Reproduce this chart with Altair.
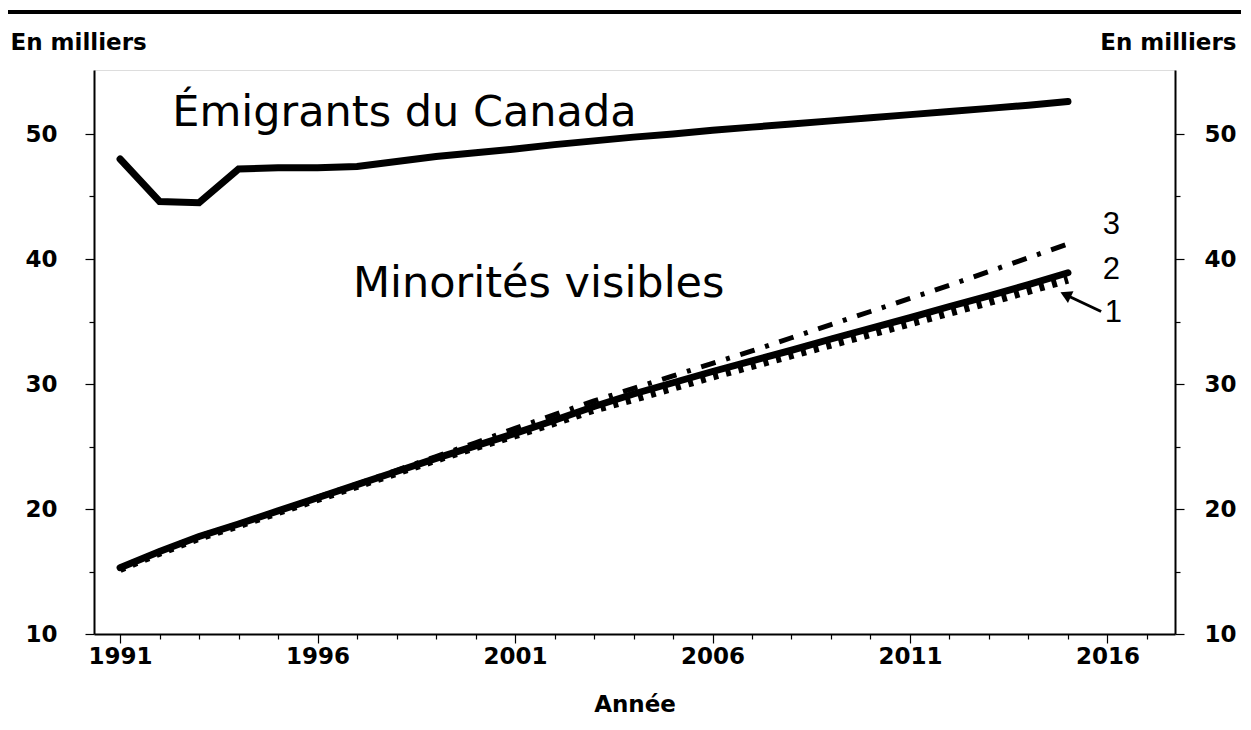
import altair as alt
import pandas as pd

years = list(range(1991, 2016))
emigrants = [48.0, 44.6, 44.5, 47.2, 47.3, 47.3, 47.4, 47.8, 48.2, 48.5, 48.8, 49.15,
             49.45, 49.75, 50.0, 50.3, 50.55, 50.8, 51.05, 51.3, 51.55, 51.8, 52.05, 52.3, 52.6]
minorities_1 = [15.2, 16.5, 17.7, 18.7, 19.75, 20.8, 21.85, 22.9, 23.95, 24.95, 25.9, 26.9,
                27.95, 28.8, 29.7, 30.6, 31.45, 32.3, 33.15, 34.0, 34.85, 35.7, 36.55, 37.45, 38.35]
minorities_2 = [15.3, 16.6, 17.8, 18.8, 19.85, 20.9, 21.95, 23.0, 24.05, 25.05, 26.05, 27.1,
                28.2, 29.2, 30.1, 31.0, 31.85, 32.7, 33.6, 34.45, 35.3, 36.2, 37.05, 37.95, 38.9]
minorities_3 = [15.3, 16.6, 17.8, 18.8, 19.85, 20.95, 22.0, 23.1, 24.2, 25.3, 26.45, 27.55,
                28.65, 29.65, 30.65, 31.65, 32.65, 33.7, 34.75, 35.8, 36.85, 37.9, 39.0, 40.1, 41.2]

x_ticks = list(range(1991, 2018))
y_ticks = [10, 15, 20, 25, 30, 35, 40, 45, 50]
x_domain = [1990.34, 2017.71]
y_domain = [10, 55.12]

big_labels = ["Émigrants du Canada", "Minorités visibles"]
big_x = [1998.2, 2001.6]
big_y = [50.64, 36.96]

scen_labels = ["3", "2", "1"]
scen_x = [2016.1, 2016.1, 2016.15]
scen_y = [42.7, 39.1, 35.7]

arrow_tail = (2015.84, 35.8)
arrow_head = (2014.94, 37.14)

df = pd.DataFrame({"year": years, "emig": emigrants, "m1": minorities_1,
                   "m2": minorities_2, "m3": minorities_3})
big_df = pd.DataFrame({"x": big_x, "y": big_y, "t": big_labels})
scen_df = pd.DataFrame({"x": scen_x, "y": scen_y, "t": scen_labels})
arrow_df = pd.DataFrame({"x": [arrow_tail[0]], "y": [arrow_tail[1]],
                         "x2": [arrow_head[0]], "y2": [arrow_head[1]]})

LAB = "DejaVu Sans"
LAB2 = "Liberation Sans"

xscale = alt.Scale(domain=x_domain, nice=False, zero=False)
yscale = alt.Scale(domain=y_domain, nice=False, zero=False)

xaxis = alt.Axis(values=x_ticks, labelExpr="datum.value % 5 == 1 ? format(datum.value, 'd') : ''",
                 title="Année", titleFont=LAB, titleFontSize=23, titleFontWeight="bold",
                 titlePadding=25, labelFont=LAB, labelFontSize=23, labelFontWeight="bold",
                 labelColor="black", titleColor="black", tickColor="black", domainColor="black",
                 domainWidth=2, tickWidth=1.2,
                 tickSize={"condition": {"test": "datum.value % 5 == 1", "value": 9}, "value": 5},
                 labelPadding=2, grid=False, labelOverlap=False, labelFlush=False)


def X(field="year"):
    return alt.X(f"{field}:Q", scale=xscale, axis=xaxis)


def Y(field, axis=None):
    return alt.Y(f"{field}:Q", scale=yscale, axis=axis)


def y_axis(orient, title_x, title_align, pad):
    return alt.Axis(values=y_ticks, orient=orient,
                    labelExpr="datum.value % 10 == 0 ? datum.value : ''",
                    title="En milliers", titleAngle=0, titleX=title_x, titleY=-28,
                    titleAlign=title_align, titleBaseline="middle", titleFont=LAB,
                    titleFontSize=23, titleFontWeight="bold", titleColor="black",
                    labelFont=LAB, labelFontSize=23, labelFontWeight="bold", labelColor="black",
                    tickColor="black", tickWidth=1.2, domainColor="black", domainWidth=2,
                    tickSize={"condition": {"test": "datum.value % 10 == 0", "value": 9}, "value": 5},
                    labelPadding=pad, grid=False)


left_axis = y_axis("left", -84, "left", 28)
right_axis = y_axis("right", 61, "right", 20)

base = alt.Chart(df)

emig = base.mark_line(color="black", strokeWidth=7, strokeCap="round").encode(
    x=X(), y=Y("emig", left_axis))
m1 = base.mark_line(color="black", strokeWidth=8, strokeDash=[5, 8]).encode(
    x=X(), y=Y("m1"))
m3 = base.mark_line(color="black", strokeWidth=5, strokeDash=[15, 11, 4, 11]).encode(
    x=X(), y=Y("m3"))
m2 = base.mark_line(color="black", strokeWidth=7, strokeCap="round").encode(
    x=X(), y=Y("m2", right_axis))

big = alt.Chart(big_df).mark_text(font="DejaVu Sans", fontSize=43, color="black",
                                  align="center", baseline="alphabetic").encode(
    x=X("x"), y=Y("y"), text="t:N")
scen = alt.Chart(scen_df).mark_text(font=LAB2, fontSize=31, color="black",
                                    align="center", baseline="middle").encode(
    x=X("x"), y=Y("y"), text="t:N")
arrow_line = alt.Chart(arrow_df).mark_rule(color="black", strokeWidth=3).encode(
    x=X("x"), y=Y("y"), x2="x2:Q", y2="y2:Q")
arrow_tip = alt.Chart(arrow_df).mark_point(shape="triangle-up", filled=True, color="black",
                                           size=170, angle=295, opacity=1).encode(
    x=X("x2"), y=Y("y2"))

top_rule = alt.Chart(df).mark_rule(color="black", strokeWidth=2.5).encode(
    x=alt.value(-87), x2=alt.value(1147), y=alt.value(-58))

chart = alt.layer(emig, m1, m3, m2, big, scen, arrow_line, arrow_tip, top_rule).resolve_axis(
    y="independent").properties(
    width=1081, height=564,
    autosize=alt.AutoSizeParams(type="none"),
    padding={"left": 86, "top": 62, "right": 66, "bottom": 84},
).configure_view(stroke="black", strokeWidth=1.5).configure(background="white")

chart.save("out.html", embed_options={"renderer": "svg", "actions": False})
